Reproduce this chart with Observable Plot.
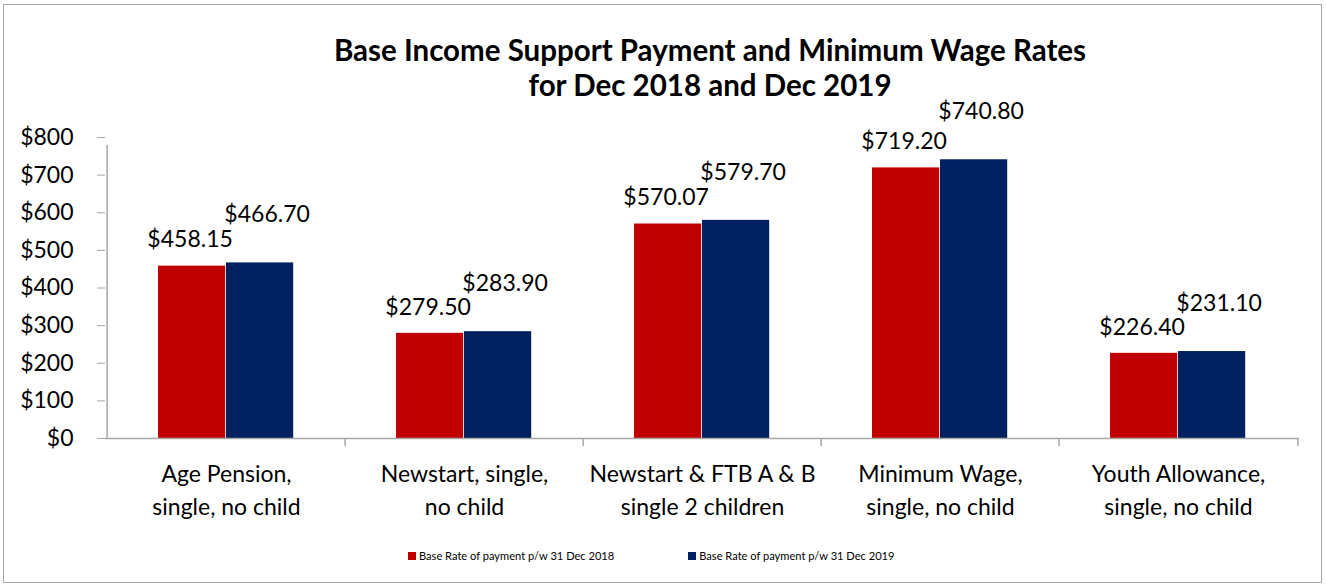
<!DOCTYPE html>
<html><head><meta charset="utf-8">
<script src="https://cdn.jsdelivr.net/npm/d3@7"></script>
<script src="https://cdn.jsdelivr.net/npm/@observablehq/plot@0.6"></script>
<style>
body{margin:0;background:#fff;font-family:Lato, sans-serif;}
#wrap{position:relative;width:1326px;height:586px;overflow:hidden;background:#fff;}
#frame{position:absolute;left:3px;top:4px;width:1319px;height:579px;border:1px solid #a6a6a6;box-sizing:border-box;}
#title{position:absolute;left:94px;right:0;top:32px;text-align:center;font-weight:bold;font-size:29.5px;line-height:35px;color:#000;}
#chart{position:absolute;left:0;top:95px;}
#legend{position:absolute;left:408px;top:549px;display:flex;align-items:center;font-size:11.1px;color:#000;}
#legend .item{display:flex;align-items:center;margin-right:74px;}
#legend .sw{width:8px;height:8px;margin-right:3px;}
</style>
</head><body>
<div id="wrap">
  <div id="frame"></div>
  <div id="title">Base Income Support Payment and Minimum Wage Rates<br>for Dec 2018 and Dec 2019</div>
  <div id="chart"></div>
  <div id="legend"></div>
</div>
<script>
const categories = [
  "Age Pension,\nsingle, no child",
  "Newstart, single,\nno child",
  "Newstart & FTB A & B\nsingle 2 children",
  "Minimum Wage,\nsingle, no child",
  "Youth Allowance,\nsingle, no child"
];
const rates2018 = [458.15, 279.50, 570.07, 719.20, 226.40];
const rates2019 = [466.70, 283.90, 579.70, 740.80, 231.10];
const seriesNames = ["Base Rate of payment p/w 31 Dec 2018", "Base Rate of payment p/w 31 Dec 2019"];
const seriesColors = ["#C00000", "#002060"];
const yTicks = [0, 100, 200, 300, 400, 500, 600, 700, 800];

const rows = categories.map((c, i) => ({category: c, v2018: rates2018[i], v2019: rates2019[i]}));

const W = 1326, H = 440, ML = 105, MR = 27, MT = 42, MB = 97;
const bw = (W - ML - MR) / categories.length;
const gap = 51, barW = 68;
const axisColor = "#a6a6a6";
const fmt = v => "$" + v.toFixed(2);
const yMax = yTicks[yTicks.length - 1];

const plot = Plot.plot({
  width: W, height: H,
  marginLeft: ML, marginRight: MR, marginTop: MT, marginBottom: MB,
  style: {fontFamily: "Lato, sans-serif", fontSize: "23px", color: "#000", background: "transparent", overflow: "visible"},
  x: {domain: categories, padding: 0, axis: null, label: null},
  y: {domain: [0, yMax], axis: null, label: null},
  marks: [
    Plot.barY(rows, {x: "category", y: "v2018", fill: seriesColors[0], insetLeft: gap, insetRight: bw - gap - barW}),
    Plot.barY(rows, {x: "category", y: "v2019", fill: seriesColors[1], insetLeft: gap + barW, insetRight: bw - gap - 2 * barW}),
    Plot.ruleY([0], {stroke: axisColor, strokeWidth: 1.5}),
    Plot.ruleX(categories.slice(0, 1), {x: d => d, dx: -bw / 2, y1: 0, y2: yMax, stroke: axisColor, strokeWidth: 1.5, insetBottom: -8}),
    Plot.ruleX(categories.slice(1), {x: d => d, dx: -bw / 2, y1: 0, y2: 0, stroke: axisColor, strokeWidth: 1.5, insetBottom: -8}),
    Plot.ruleX(categories.slice(-1), {x: d => d, dx: bw / 2, y1: 0, y2: 0, stroke: axisColor, strokeWidth: 1.5, insetBottom: -8}),
    Plot.axisY({ticks: yTicks, tickFormat: d => "$" + d, tickSize: 8, tickPadding: 24, stroke: axisColor, fill: "#000", fontSize: 23, label: null}),
    Plot.axisX({tickSize: 0, tickPadding: 20, fill: "#000", fontSize: 23, lineHeight: 1.43, label: null}),
    Plot.text(rows, {x: "category", y: "v2018", text: d => fmt(d.v2018), dx: -(bw / 2 - gap - barW / 2) - 2, dy: -26, fill: "#000", fontSize: 23}),
    Plot.text(rows, {x: "category", y: "v2019", text: d => fmt(d.v2019), dx: (gap + 1.5 * barW - bw / 2) + 7, dy: -48, fill: "#000", fontSize: 23})
  ]
});
document.getElementById("chart").appendChild(plot);

const legend = document.getElementById("legend");
seriesNames.forEach((name, i) => {
  const item = document.createElement("div");
  item.className = "item";
  const sw = document.createElement("span");
  sw.className = "sw";
  sw.style.background = seriesColors[i];
  const t = document.createElement("span");
  t.textContent = name;
  item.appendChild(sw); item.appendChild(t);
  legend.appendChild(item);
});
</script>
</body></html>
